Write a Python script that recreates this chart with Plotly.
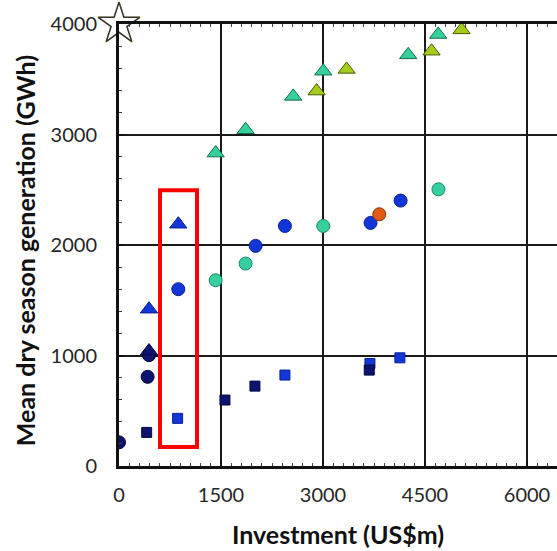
import plotly.graph_objects as go

# ---- data (Investment US$m, Mean dry season generation GWh) ----
tri_teal_x = [1421, 1862, 2562, 3004, 4253, 4694]
tri_teal_y = [2832, 3043, 3345, 3573, 3721, 3905]
tri_yg_x = [2906, 3347, 4596, 5037]
tri_yg_y = [3393, 3589, 3754, 3947]
tri_blue_x = [441, 872]
tri_blue_y = [1419, 2188]
tri_navy_x = [441]
tri_navy_y = [1040]

cir_navy_x = [0, 421, 441]
cir_navy_y = [214, 807, 1003]
cir_blue_x = [872, 2009, 2440, 3699, 4141]
cir_blue_y = [1600, 1992, 2172, 2200, 2402]
cir_teal_x = [1421, 1862, 3004, 4698]
cir_teal_y = [1681, 1832, 2172, 2504]
cir_orange_x = [3827]
cir_orange_y = [2278]

sq_blue_x = [862, 2440, 3690, 4131]
sq_blue_y = [431, 823, 928, 979]
sq_navy_x = [407, 1558, 1999, 3680]
sq_navy_y = [304, 597, 723, 868]

star_x = [0]
star_y = [4000]

highlight_box = [603, 172, 1147, 2495]  # x0, y0, x1, y1

x_ticks = [0, 1500, 3000, 4500, 6000]
y_ticks = [0, 1000, 2000, 3000, 4000]

NAVY = "#0d1470"
BLUE = "#1236d8"
TEAL = "#36d09e"
YG = "#a4cc1c"
ORANGE = "#e05a12"

fig = go.Figure()


def add(xs, ys, symbol, color, size, line_color):
    fig.add_trace(go.Scatter(
        x=xs, y=ys, mode="markers",
        marker=dict(symbol=symbol, color=color, size=size,
                    line=dict(color=line_color, width=1)),
        showlegend=False, hoverinfo="x+y"))


add(sq_blue_x, sq_blue_y, "square", BLUE, 10, "#0a2090")
add(sq_navy_x, sq_navy_y, "square", NAVY, 10, "#05083a")
add(cir_navy_x, cir_navy_y, "circle", NAVY, 13, "#05083a")
add(cir_blue_x, cir_blue_y, "circle", BLUE, 13, "#0a2090")
add(cir_teal_x, cir_teal_y, "circle", TEAL, 13, "#1a8a66")
add(cir_orange_x, cir_orange_y, "circle", ORANGE, 13, "#8a3008")
add(tri_navy_x, tri_navy_y, "triangle-up", NAVY, 15, "#05083a")
add(tri_blue_x, tri_blue_y, "triangle-up", BLUE, 15, "#0a2090")
add(tri_teal_x, tri_teal_y, "triangle-up", TEAL, 15, "#1a6a50")
add(tri_yg_x, tri_yg_y, "triangle-up", YG, 15, "#4a5a08")

# star marker at origin-top
fig.add_trace(go.Scatter(
    x=star_x, y=star_y, mode="markers", cliponaxis=False,
    marker=dict(symbol="star", color="#f2d21a", size=34, line=dict(width=0)),
    showlegend=False, hoverinfo="skip"))
fig.add_trace(go.Scatter(
    x=star_x, y=star_y, mode="markers", cliponaxis=False,
    marker=dict(symbol="star", color="white", size=31,
                line=dict(color="#333333", width=1.5)),
    showlegend=False, hoverinfo="skip"))

fig.add_shape(type="rect", xref="x", yref="y",
              x0=highlight_box[0], y0=highlight_box[1],
              x1=highlight_box[2], y1=highlight_box[3],
              line=dict(color="#ff0000", width=4), fillcolor="rgba(0,0,0,0)")

FONT = "Lato, 'Open Sans', sans-serif"

fig.update_layout(
    width=557, height=551,
    margin=dict(l=119, r=0, t=24, b=85),
    paper_bgcolor="white", plot_bgcolor="white",
    font=dict(family=FONT, color="#262626", size=20),
)

# y-axis title as rotated annotation for precise placement
fig.add_annotation(
    text="<b>Mean dry season generation (GWh)</b>", textangle=-90,
    xref="paper", yref="paper", x=-0.2146, y=0.486,
    xanchor="center", yanchor="middle", showarrow=False,
    font=dict(size=25, family=FONT, color="#111111"))

fig.update_xaxes(
    range=[0, 6441], tickvals=x_ticks, ticktext=[str(v) for v in x_ticks],
    showgrid=True, gridcolor="#1a1a1a", gridwidth=2.2,
    showline=True, linecolor="#111111", linewidth=3, mirror="allticks",
    ticks="inside", ticklen=5, tickcolor="#111111", tickwidth=1.5,
    minor=dict(dtick=150, tick0=0, ticks="inside", ticklen=3,
               tickcolor="#444444", tickwidth=1, showgrid=False),
    zeroline=False, ticklabelstandoff=9,
    tickfont=dict(size=20, family=FONT, color="#262626"),
    title=dict(text="<b>Investment (US$m)</b>", standoff=22,
               font=dict(size=25, family=FONT, color="#111111")),
)

fig.update_yaxes(
    range=[0, 4000], tickvals=y_ticks, ticktext=[str(v) for v in y_ticks],
    showgrid=True, gridcolor="#1a1a1a", gridwidth=2.2,
    showline=True, linecolor="#111111", linewidth=3, mirror=False,
    ticks="inside", ticklen=5, tickcolor="#111111", tickwidth=1.5,
    minor=dict(dtick=200, tick0=0, ticks="inside", ticklen=3,
               tickcolor="#444444", tickwidth=1, showgrid=False),
    zeroline=False, ticklabelstandoff=15,
    tickfont=dict(size=20, family=FONT, color="#262626"),
)

fig.write_html("out.html", config={"displayModeBar": False},
               post_script="document.body.style.margin='0';"
                           "document.body.style.overflow='hidden';")
